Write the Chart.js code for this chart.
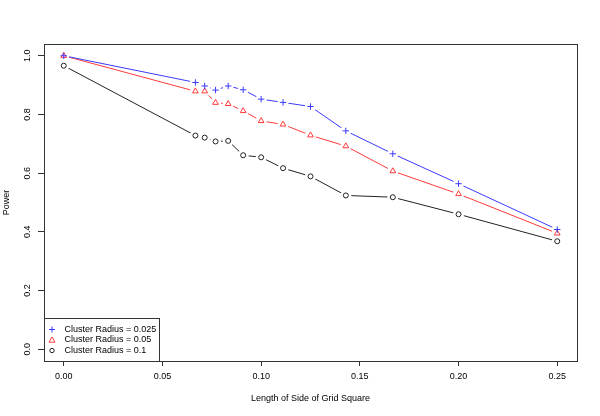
<!DOCTYPE html>
<html>
<head>
<meta charset="utf-8">
<script src="https://cdn.jsdelivr.net/npm/chart.js@4.4.1/dist/chart.umd.min.js"></script>
<style>
html,body{margin:0;padding:0;background:#fff;}
#wrap{width:600px;height:416px;position:relative;}
</style>
</head>
<body>
<div id="wrap"><canvas id="c" width="600" height="416"></canvas></div>
<script>
// Data
const sideLengths = [0, 0.0667, 0.0714, 0.0769, 0.0833, 0.0909, 0.1, 0.1111, 0.125, 0.1429, 0.1667, 0.2, 0.25];
const power025 = [1.0, 0.909, 0.897, 0.883, 0.897, 0.884, 0.852, 0.841, 0.827, 0.744, 0.666, 0.564, 0.408];
const power05  = [1.0, 0.879, 0.879, 0.840, 0.836, 0.812, 0.778, 0.766, 0.729, 0.692, 0.607, 0.529, 0.395];
const power1   = [0.966, 0.728, 0.721, 0.708, 0.710, 0.661, 0.654, 0.617, 0.589, 0.524, 0.518, 0.460, 0.368];
const seriesLabels = ["Cluster Radius = 0.025", "Cluster Radius = 0.05", "Cluster Radius = 0.1"];
const xTicks = [0, 0.05, 0.10, 0.15, 0.20, 0.25];
const yTicks = [0, 0.2, 0.4, 0.6, 0.8, 1.0];

const colors = ['#3a3aff', '#ff3a3a', '#222222'];
const styles = ['cross', 'triangle', 'circle'];
const radii = [3.2, 3.3, 2.5];
const allSeries = [power025, power05, power1];
const FONT = 'Liberation Sans, Arial, Helvetica, sans-serif';

function pts(vals){ return sideLengths.map((x,i)=>({x:x, y:vals[i]})); }

const datasets = [];
allSeries.forEach((vals, k) => {
  // markers (top)
  datasets.push({label: seriesLabels[k], data: pts(vals), showLine:false, order:0,
    pointStyle: styles[k], pointRadius: radii[k], pointBorderColor: colors[k],
    pointBackgroundColor: 'rgba(0,0,0,0)', pointBorderWidth: 1});
  // white blockers to make R-style gaps
  datasets.push({label: '_gap'+k, data: pts(vals), showLine:false, order:1,
    pointStyle:'circle', pointRadius: 5.5, pointBorderWidth:0,
    pointBackgroundColor:'#ffffff', pointBorderColor:'#ffffff'});
  // lines
  datasets.push({label: '_line'+k, data: pts(vals), showLine:true, order:2,
    borderColor: colors[k], borderWidth: 1, pointRadius: 0, fill:false, tension:0});
});

const frameAndLegend = {
  id: 'frameAndLegend',
  afterDraw(chart) {
    const ctx = chart.ctx, a = chart.chartArea;
    ctx.save();
    ctx.strokeStyle = '#333';
    ctx.lineWidth = 1;
    ctx.strokeRect(Math.round(a.left)+0.5, Math.round(a.top)+0.5, Math.round(a.right-a.left), Math.round(a.bottom-a.top));
    // legend box (bottom-left inside plot)
    const bx = Math.round(a.left)+0.5, bw = 115, bh = 43;
    const by = Math.round(a.bottom)+0.5 - bh;
    ctx.fillStyle = '#fff';
    ctx.fillRect(bx, by, bw, bh);
    ctx.strokeRect(bx, by, bw, bh);
    ctx.font = '9px ' + FONT;
    ctx.textBaseline = 'middle';
    ctx.textAlign = 'left';
    const rows = [by + 11, by + 21.5, by + 32];
    seriesLabels.forEach((lab, k) => {
      const sx = bx + 7.5, sy = rows[k];
      ctx.strokeStyle = colors[k];
      ctx.lineWidth = 1;
      ctx.beginPath();
      if (styles[k] === 'cross') { ctx.moveTo(sx-3, sy); ctx.lineTo(sx+3, sy); ctx.moveTo(sx, sy-3); ctx.lineTo(sx, sy+3); }
      else if (styles[k] === 'triangle') { ctx.moveTo(sx, sy-3); ctx.lineTo(sx+3, sy+2.2); ctx.lineTo(sx-3, sy+2.2); ctx.closePath(); }
      else { ctx.arc(sx, sy, 2.2, 0, Math.PI*2); }
      ctx.stroke();
      ctx.fillStyle = '#000';
      ctx.fillText(lab, bx + 20, sy);
    });
    ctx.restore();
  }
};

new Chart(document.getElementById('c'), {
  type: 'scatter',
  data: { datasets },
  options: {
    responsive: false,
    animation: false,
    events: [],
    layout: { padding: { top: 44, right: 23, left: 0, bottom: 0 } },
    plugins: { legend: { display: false }, tooltip: { enabled: false } },
    scales: {
      x: {
        type: 'linear', min: -0.01, max: 0.26,
        afterBuildTicks: s => { s.ticks = xTicks.map(v => ({value: v})); },
        afterFit: s => { s.height = 55; },
        ticks: { callback: v => Number(v).toFixed(2), color: '#000', font: { size: 9, family: FONT }, padding: 5, maxRotation: 0 },
        grid: { drawOnChartArea: false, drawTicks: true, tickLength: 5, color: '#333' },
        border: { display: false },
        title: { display: true, text: 'Length of Side of Grid Square', color: '#000', font: { size: 9, family: FONT }, padding: { top: 12, bottom: 12 } }
      },
      y: {
        type: 'linear', min: -0.04, max: 1.04,
        afterBuildTicks: s => { s.ticks = yTicks.map(v => ({value: v})); },
        afterFit: s => { s.width = 44; },
        ticks: { callback: v => Number(v).toFixed(1), color: '#000', font: { size: 9, family: FONT }, padding: 4, minRotation: 90, maxRotation: 90, crossAlign: 'center' },
        grid: { drawOnChartArea: false, drawTicks: true, tickLength: 6, color: '#333' },
        border: { display: false },
        title: { display: true, text: 'Power', color: '#000', font: { size: 9, family: FONT }, padding: { top: 1.5, bottom: 1.5 } }
      }
    }
  },
  plugins: [frameAndLegend]
});
</script>
</body>
</html>
